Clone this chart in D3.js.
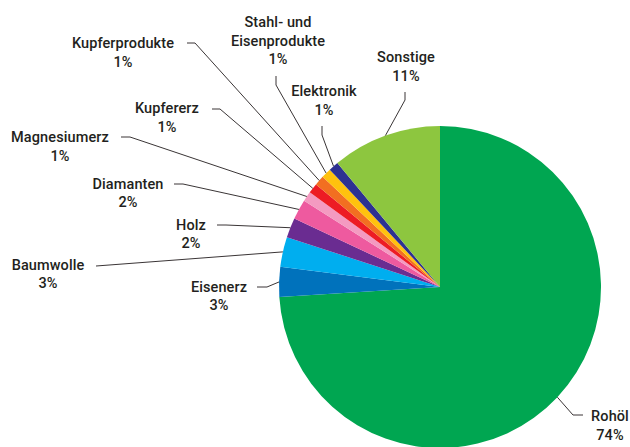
<!DOCTYPE html>
<html>
<head>
<meta charset="utf-8">
<script src="https://cdn.jsdelivr.net/npm/d3@7"></script>
<style>
  html, body { margin: 0; padding: 0; background: #fff; }
  svg { display: block; }
  text { font-family: Roboto, "DejaVu Sans Condensed", sans-serif; font-weight: 500; font-size: 14.5px; fill: #231f20; letter-spacing: 0.1px; }
</style>
</head>
<body>
<svg id="chart" width="630" height="447"></svg>
<script>
// Export shares by product group (percent)
const categories = ["Rohöl", "Eisenerz", "Baumwolle", "Holz", "Diamanten", "Magnesiumerz",
  "Kupfererz", "Kupferprodukte", "Stahl- und Eisenprodukte", "Elektronik", "Sonstige"];
const values = [74, 3, 3, 2, 2, 1, 1, 1, 1, 1, 11];
const colors = ["#00a651", "#0072bc", "#00aeef", "#6a2c91", "#ee5a9f", "#f49ac1",
  "#ed1c24", "#f26f21", "#ffc20e", "#2e3192", "#8dc63f"];

// Label text lines (category name may wrap)
const labelLines = {
  "Stahl- und Eisenprodukte": ["Stahl- und", "Eisenprodukte"]
};

// Label placement: text centre x, baselines, and the leader-line points from label to elbow
const labelLayout = {
  "Rohöl":          { x: 610, y: [421, 440], leader: [[583, 415], [573, 415]] },
  "Eisenerz":       { x: 219, y: [292, 310], leader: [[257, 287], [267, 287]] },
  "Baumwolle":      { x: 48,  y: [270, 288], leader: [[96, 266]] },
  "Holz":           { x: 191, y: [230, 248], leader: [[217, 225], [226, 225]] },
  "Diamanten":      { x: 128, y: [189, 207], leader: [[174, 184], [183, 184]] },
  "Magnesiumerz":   { x: 60,  y: [142, 161], leader: [[121, 137], [130, 137]] },
  "Kupfererz":      { x: 167, y: [113, 132], leader: [[212, 109], [220, 109]] },
  "Kupferprodukte": { x: 123, y: [48, 67],   leader: [[187, 43], [195, 43]] },
  "Stahl- und Eisenprodukte": { x: 278, y: [27, 46, 64], leader: [[276, 76], [276, 85]] },
  "Elektronik":     { x: 324, y: [96, 115],  leader: [[322, 126], [322, 135]] },
  "Sonstige":       { x: 406, y: [62, 81],   leader: [[405, 92], [405, 100]] }
};

const svg = d3.select("#chart");
const cx = 440, cy = 287, radius = 161;

const data = categories.map((c, i) => ({ category: c, value: values[i], color: colors[i] }));
const color = d3.scaleOrdinal().domain(categories).range(colors);

const pie = d3.pie().sort(null).value(d => d.value).startAngle(0).endAngle(2 * Math.PI);
const arcs = pie(data);
const arc = d3.arc().innerRadius(0).outerRadius(radius);
const edge = d3.arc().innerRadius(radius).outerRadius(radius);

const g = svg.append("g").attr("transform", `translate(${cx},${cy})`);

g.selectAll("path.slice")
  .data(arcs)
  .join("path")
  .attr("class", "slice")
  .attr("d", arc)
  .attr("fill", d => color(d.data.category));

// Leader lines from label to the slice's outer edge
const line = d3.line();
svg.append("g")
  .selectAll("path.leader")
  .data(arcs)
  .join("path")
  .attr("class", "leader")
  .attr("fill", "none")
  .attr("stroke", "#3a3536")
  .attr("stroke-width", 1)
  .attr("d", d => {
    const lay = labelLayout[d.data.category];
    const [ex, ey] = edge.centroid(d);
    return line([...lay.leader, [cx + ex, cy + ey]]);
  });

// Labels: name + percentage
const labels = svg.append("g")
  .selectAll("text.label")
  .data(arcs)
  .join("text")
  .attr("class", "label")
  .attr("text-anchor", "middle");

labels.each(function(d) {
  const lay = labelLayout[d.data.category];
  const lines = (labelLines[d.data.category] || [d.data.category]).concat([d.data.value + "%"]);
  d3.select(this).selectAll("tspan")
    .data(lines)
    .join("tspan")
    .attr("x", lay.x)
    .attr("y", (t, i) => lay.y[i])
    .text(t => t);
});
</script>
</body>
</html>
